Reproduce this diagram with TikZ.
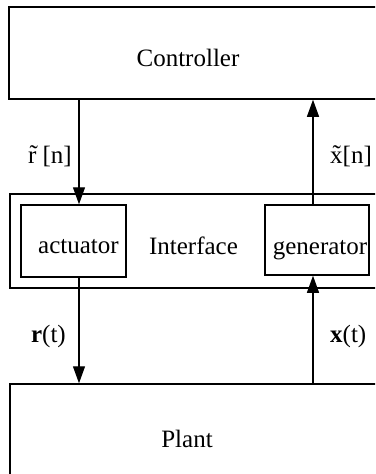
\documentclass[tikz,border=0pt]{standalone}
\usepackage{fontspec}
\setmainfont{Liberation Serif}
\usetikzlibrary{arrows.meta, positioning}

\begin{document}
\begin{tikzpicture}[x=1pt, y=-1pt, >={Triangle[length=17pt,width=12pt]},
    block/.style={draw, line width=1.5pt, rectangle, inner sep=0pt},
    lbl/.style={font=\fontsize{25}{30}\selectfont, inner sep=0pt, anchor=base},
    sig/.style={->, line width=1.2pt}]

    \useasboundingbox (0,0) rectangle (375,474);
    \clip (0,0) rectangle (375,474);

    % === BLOKI (prawa krawedz poza obrazem) ===
    \node[block, minimum width=381pt, minimum height=92pt] (ctrl) at (199.5,53) {};
    \node[block, minimum width=380pt, minimum height=94pt] (iface) at (200,241) {};
    \node[block, minimum width=105pt, minimum height=72pt] (act) at (73.5,241) {};
    \node[block, minimum width=104pt, minimum height=70pt] (gen) at (317,240) {};
    \node[block, minimum width=380pt, minimum height=106pt] (plant) at (200,437) {};

    % === NAPISY W BLOKACH ===
    \node[lbl] (ctrltxt) at (188,66) {Controller};
    \node[lbl] (iftxt) at (193.5,254) {Interface};
    \node[lbl] (acttxt) at (78.5,253) {actuator};
    \node[lbl] (gentxt) at (320,254) {generator};
    \node[lbl] (planttxt) at (187,447) {Plant};

    % === SYGNALY ===
    \coordinate (lft) at (79,0);
    \coordinate (rgt) at (313,0);
    \draw[sig] (ctrl.south -| lft) -- (act.north -| lft);
    \draw[sig] (act.south -| lft) -- (plant.north -| lft);
    \draw[sig] (plant.north -| rgt) -- (gen.south -| rgt);
    \draw[sig] (gen.north -| rgt) -- (ctrl.south -| rgt);

    \node[lbl, anchor=base east] (rn) at (72,163) {\~r [n]};
    \node[lbl, anchor=base west] (xn) at (330,163) {\~x[n]};
    \node[lbl, anchor=base east] (rt) at (66,342) {\textbf{r}(t)};
    \node[lbl, anchor=base west] (xt) at (330,342) {\textbf{x}(t)};

\end{tikzpicture}
\end{document}
